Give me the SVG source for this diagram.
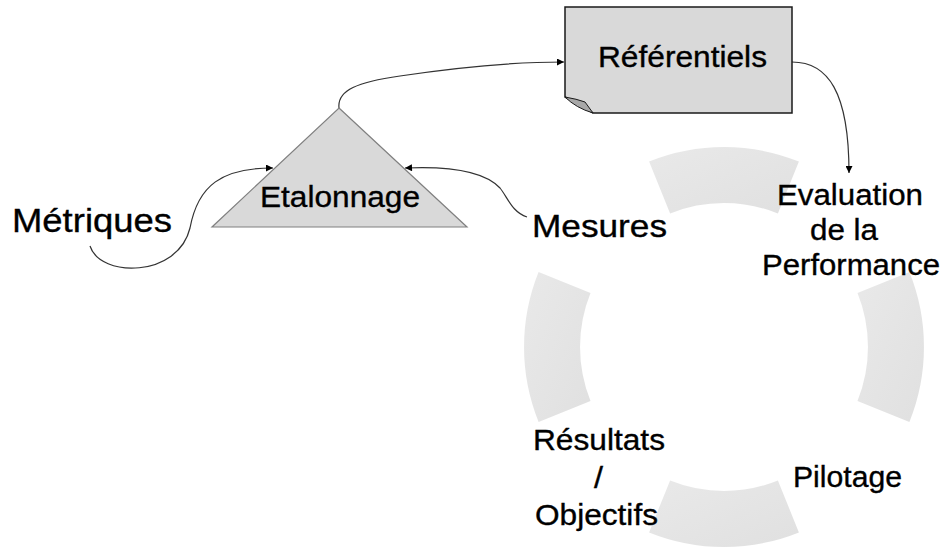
<svg xmlns="http://www.w3.org/2000/svg" width="942" height="555" viewBox="0 0 942 555">
  <defs>
    <marker id="arrow" viewBox="0 0 10 10" refX="10" refY="5" markerWidth="9" markerHeight="7" markerUnits="userSpaceOnUse" orient="auto">
      <path d="M0,0 L10,5 L0,10 Z" fill="#000"/>
    </marker>
    <linearGradient id="seg" x1="0" y1="0" x2="1" y2="1">
      <stop offset="0" stop-color="#e9e9e9"/>
      <stop offset="1" stop-color="#e0e0e0"/>
    </linearGradient>
  </defs>
  <style>
    text { font-family: "Liberation Sans", Arial, sans-serif; fill: #000; stroke: #000; stroke-width: 0.35; }
    .seg { fill: url(#seg); stroke: none; }
    .link { fill: none; stroke: #333; stroke-width: 1.2; marker-end: url(#arrow); }
  </style>
  <rect width="942" height="555" fill="#fff"/>

  <!-- cycle ring: four arc segments around (724,347) -->
  <g id="ring">
    <path class="seg" d="M649.1 161.6 A200 200 0 0 1 798.9 161.6 L777.9 213.5 A144 144 0 0 0 670.1 213.5 Z"/>
    <path class="seg" d="M909.4 272.1 A200 200 0 0 1 909.4 421.9 L857.5 400.9 A144 144 0 0 0 857.5 293.1 Z"/>
    <path class="seg" d="M649.1 532.4 A200 200 0 0 0 798.9 532.4 L777.9 480.5 A144 144 0 0 1 670.1 480.5 Z"/>
    <path class="seg" d="M538.6 421.9 A200 200 0 0 1 538.6 272.1 L590.5 293.1 A144 144 0 0 0 590.5 400.9 Z"/>
  </g>

  <!-- connectors -->
  <g id="connectors">
    <path class="link" d="M90 246 C100 278, 178 278, 190 228 C198 185, 222 168, 273 168"/>
    <path class="link" d="M527 217 C512 212, 508 198, 500 188 C485 172, 450 166, 405 168"/>
    <path class="link" d="M339 108 C337 90, 358 82, 400 76 C460 67, 510 62, 564 62"/>
    <path class="link" d="M792 62 C828 62, 849 92, 849 173"/>
  </g>

  <g id="referentiels">
    <path d="M565 7 H792 V113 H593 L565 97 Z" fill="#d9d9d9" stroke="#1a1a1a" stroke-width="1.5"/>
    <path d="M565 97 Q577 99 585 102 L593 113 Q576 108 565 97 Z" fill="#a8a8a8" stroke="#1a1a1a" stroke-width="1"/>
    <text x="598" y="67" font-size="29" textLength="169" lengthAdjust="spacingAndGlyphs">Référentiels</text>
  </g>

  <g id="etalonnage">
    <path d="M339 108 L467 227 L212 227 Z" fill="#d9d9d9" stroke="#808080" stroke-width="1.2"/>
    <text x="260" y="207" font-size="30" textLength="160" lengthAdjust="spacingAndGlyphs">Etalonnage</text>
  </g>

  <g id="metriques">
    <text x="12" y="232" font-size="34" textLength="160" lengthAdjust="spacingAndGlyphs">Métriques</text>
  </g>

  <g id="mesures">
    <text x="532" y="237" font-size="32" textLength="135" lengthAdjust="spacingAndGlyphs">Mesures</text>
  </g>

  <g id="evaluation">
    <text x="777" y="205" font-size="29" textLength="146" lengthAdjust="spacingAndGlyphs">Evaluation</text>
    <text x="810" y="240" font-size="29" textLength="68" lengthAdjust="spacingAndGlyphs">de la</text>
    <text x="762" y="275" font-size="29" textLength="178" lengthAdjust="spacingAndGlyphs">Performance</text>
  </g>

  <g id="pilotage">
    <text x="793" y="487" font-size="29" textLength="109" lengthAdjust="spacingAndGlyphs">Pilotage</text>
  </g>

  <g id="resultats">
    <text x="533" y="450" font-size="29" textLength="132" lengthAdjust="spacingAndGlyphs">Résultats</text>
    <text x="594" y="488" font-size="29" textLength="9" lengthAdjust="spacingAndGlyphs">/</text>
    <text x="535" y="525" font-size="29" textLength="123" lengthAdjust="spacingAndGlyphs">Objectifs</text>
  </g>
</svg>
